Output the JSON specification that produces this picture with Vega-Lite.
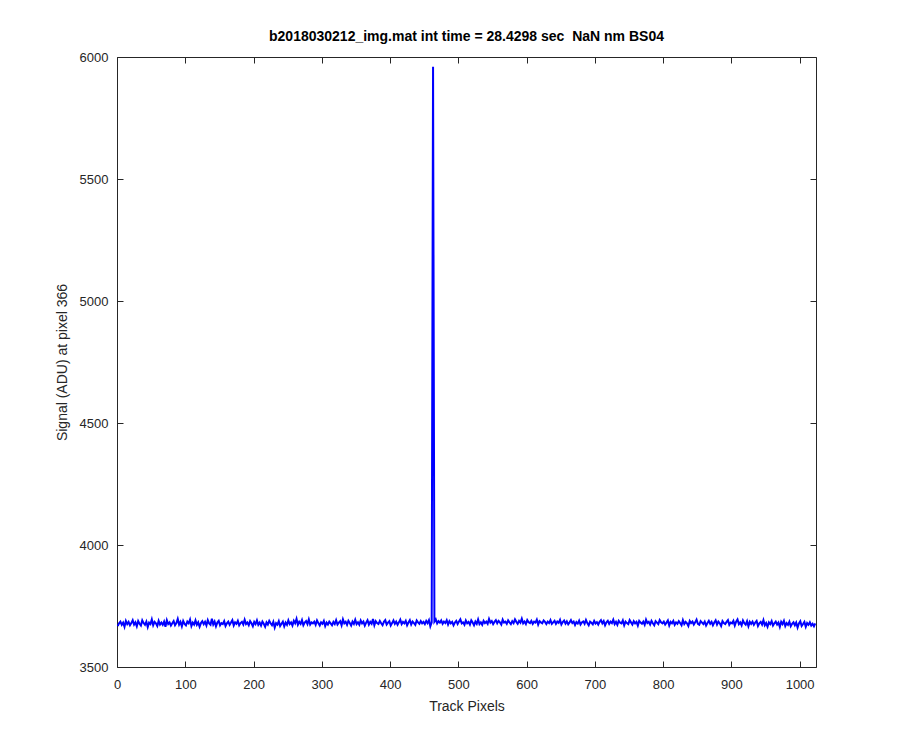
{
  "$schema": "https://vega.github.io/schema/vega-lite/v6.json",
  "width": 699,
  "height": 610,
  "autosize": {"type": "none"},
  "padding": {"left": 117, "top": 57, "right": 84, "bottom": 83},
  "background": "white",
  "title": {
    "text": "b2018030212_img.mat int time = 28.4298 sec\u00a0 NaN nm BS04",
    "font": "Liberation Sans",
    "fontSize": 14,
    "fontWeight": "bold",
    "color": "#000000",
    "anchor": "middle",
    "offset": 7
  },
  "config": {
    "view": {"stroke": "#262626", "strokeWidth": 1},
    "axis": {
      "grid": false,
      "domain": false,
      "labelFlush": false,
      "tickColor": "#262626",
      "tickSize": -6,
      "tickWidth": 1,
      "labelFont": "Liberation Sans",
      "labelFontSize": 13,
      "labelColor": "#262626",
      "titleFont": "Liberation Sans",
      "titleFontSize": 14,
      "titleFontWeight": "normal",
      "titleColor": "#262626"
    }
  },
  "data": {
    "values": [
      {"x":1,"y":3668},{"x":3,"y":3679},{"x":5,"y":3686},{"x":7,"y":3673},{"x":9,"y":3682},{"x":11,"y":3665},{"x":13,"y":3689},{"x":15,"y":3676},{"x":17,"y":3685},{"x":19,"y":3671},{"x":21,"y":3680},{"x":23,"y":3692},{"x":25,"y":3674},{"x":27,"y":3683},{"x":29,"y":3667},{"x":31,"y":3688},
      {"x":33,"y":3677},{"x":35,"y":3670},{"x":37,"y":3691},{"x":39,"y":3680},{"x":41,"y":3673},{"x":43,"y":3686},{"x":45,"y":3664},{"x":47,"y":3682},{"x":49,"y":3676},{"x":51,"y":3695},{"x":53,"y":3671},{"x":55,"y":3685},{"x":57,"y":3679},{"x":59,"y":3668},{"x":61,"y":3689},{"x":63,"y":3674},
      {"x":65,"y":3682},{"x":67,"y":3673},{"x":69,"y":3686},{"x":71,"y":3665},{"x":73,"y":3692},{"x":75,"y":3676},{"x":77,"y":3683},{"x":79,"y":3670},{"x":81,"y":3679},{"x":83,"y":3688},{"x":85,"y":3671},{"x":87,"y":3680},{"x":89,"y":3697},{"x":91,"y":3674},{"x":93,"y":3685},{"x":95,"y":3667},
      {"x":97,"y":3689},{"x":99,"y":3677},{"x":101,"y":3671},{"x":103,"y":3686},{"x":105,"y":3679},{"x":107,"y":3694},{"x":109,"y":3668},{"x":111,"y":3682},{"x":113,"y":3674},{"x":115,"y":3691},{"x":117,"y":3673},{"x":119,"y":3683},{"x":121,"y":3665},{"x":123,"y":3680},{"x":125,"y":3688},{"x":127,"y":3676},
      {"x":129,"y":3685},{"x":131,"y":3670},{"x":133,"y":3692},{"x":135,"y":3679},{"x":137,"y":3673},{"x":139,"y":3698},{"x":141,"y":3674},{"x":143,"y":3686},{"x":145,"y":3667},{"x":147,"y":3682},{"x":149,"y":3689},{"x":151,"y":3671},{"x":153,"y":3680},{"x":155,"y":3676},{"x":157,"y":3688},{"x":159,"y":3668},
      {"x":161,"y":3679},{"x":163,"y":3686},{"x":165,"y":3673},{"x":167,"y":3682},{"x":169,"y":3692},{"x":171,"y":3670},{"x":173,"y":3683},{"x":175,"y":3677},{"x":177,"y":3689},{"x":179,"y":3671},{"x":181,"y":3680},{"x":183,"y":3685},{"x":185,"y":3674},{"x":187,"y":3694},{"x":189,"y":3676},{"x":191,"y":3682},
      {"x":193,"y":3671},{"x":195,"y":3688},{"x":197,"y":3679},{"x":199,"y":3667},{"x":201,"y":3685},{"x":203,"y":3676},{"x":205,"y":3691},{"x":207,"y":3673},{"x":209,"y":3682},{"x":211,"y":3670},{"x":213,"y":3686},{"x":215,"y":3677},{"x":217,"y":3665},{"x":219,"y":3683},{"x":221,"y":3674},{"x":223,"y":3689},
      {"x":225,"y":3679},{"x":227,"y":3671},{"x":229,"y":3685},{"x":231,"y":3662},{"x":233,"y":3680},{"x":235,"y":3674},{"x":237,"y":3688},{"x":239,"y":3668},{"x":241,"y":3677},{"x":243,"y":3686},{"x":245,"y":3667},{"x":247,"y":3682},{"x":249,"y":3673},{"x":251,"y":3691},{"x":253,"y":3676},{"x":255,"y":3683},
      {"x":257,"y":3670},{"x":259,"y":3689},{"x":261,"y":3679},{"x":263,"y":3697},{"x":265,"y":3673},{"x":267,"y":3685},{"x":269,"y":3677},{"x":271,"y":3692},{"x":273,"y":3671},{"x":275,"y":3682},{"x":277,"y":3688},{"x":279,"y":3676},{"x":281,"y":3695},{"x":283,"y":3674},{"x":285,"y":3683},{"x":287,"y":3679},
      {"x":289,"y":3686},{"x":291,"y":3673},{"x":293,"y":3691},{"x":295,"y":3680},{"x":297,"y":3670},{"x":299,"y":3683},{"x":301,"y":3677},{"x":303,"y":3689},{"x":305,"y":3668},{"x":307,"y":3682},{"x":309,"y":3674},{"x":311,"y":3686},{"x":313,"y":3679},{"x":315,"y":3671},{"x":317,"y":3685},{"x":319,"y":3676},
      {"x":321,"y":3692},{"x":323,"y":3674},{"x":325,"y":3682},{"x":327,"y":3688},{"x":329,"y":3671},{"x":331,"y":3695},{"x":333,"y":3679},{"x":335,"y":3685},{"x":337,"y":3673},{"x":339,"y":3689},{"x":341,"y":3680},{"x":343,"y":3670},{"x":345,"y":3686},{"x":347,"y":3677},{"x":349,"y":3694},{"x":351,"y":3676},
      {"x":353,"y":3683},{"x":355,"y":3673},{"x":357,"y":3691},{"x":359,"y":3679},{"x":361,"y":3686},{"x":363,"y":3670},{"x":365,"y":3682},{"x":367,"y":3692},{"x":369,"y":3674},{"x":371,"y":3685},{"x":373,"y":3677},{"x":375,"y":3697},{"x":377,"y":3671},{"x":379,"y":3688},{"x":381,"y":3680},{"x":383,"y":3676},
      {"x":385,"y":3689},{"x":387,"y":3679},{"x":389,"y":3671},{"x":391,"y":3685},{"x":393,"y":3692},{"x":395,"y":3674},{"x":397,"y":3682},{"x":399,"y":3688},{"x":401,"y":3670},{"x":403,"y":3680},{"x":405,"y":3691},{"x":407,"y":3677},{"x":409,"y":3686},{"x":411,"y":3673},{"x":413,"y":3683},{"x":415,"y":3694},
      {"x":417,"y":3676},{"x":419,"y":3685},{"x":421,"y":3679},{"x":423,"y":3689},{"x":425,"y":3671},{"x":427,"y":3682},{"x":429,"y":3692},{"x":431,"y":3674},{"x":433,"y":3686},{"x":435,"y":3680},{"x":437,"y":3673},{"x":439,"y":3691},{"x":441,"y":3683},{"x":443,"y":3677},{"x":445,"y":3688},{"x":447,"y":3679},
      {"x":449,"y":3685},{"x":451,"y":3676},{"x":453,"y":3689},{"x":455,"y":3680},{"x":457,"y":3692},{"x":459,"y":3667},{"x":461,"y":3683},{"x":463,"y":5960},{"x":465,"y":3686},{"x":467,"y":3695},{"x":469,"y":3679},{"x":471,"y":3688},{"x":473,"y":3682},{"x":475,"y":3691},{"x":477,"y":3677},{"x":479,"y":3686},
      {"x":481,"y":3680},{"x":483,"y":3692},{"x":485,"y":3674},{"x":487,"y":3688},{"x":489,"y":3679},{"x":491,"y":3685},{"x":493,"y":3671},{"x":495,"y":3682},{"x":497,"y":3689},{"x":499,"y":3676},{"x":501,"y":3686},{"x":503,"y":3695},{"x":505,"y":3679},{"x":507,"y":3683},{"x":509,"y":3673},{"x":511,"y":3691},
      {"x":513,"y":3679},{"x":515,"y":3685},{"x":517,"y":3674},{"x":519,"y":3691},{"x":521,"y":3682},{"x":523,"y":3671},{"x":525,"y":3686},{"x":527,"y":3677},{"x":529,"y":3695},{"x":531,"y":3676},{"x":533,"y":3683},{"x":535,"y":3673},{"x":537,"y":3689},{"x":539,"y":3680},{"x":541,"y":3686},{"x":543,"y":3677},
      {"x":545,"y":3697},{"x":547,"y":3682},{"x":549,"y":3688},{"x":551,"y":3676},{"x":553,"y":3685},{"x":555,"y":3692},{"x":557,"y":3679},{"x":559,"y":3689},{"x":561,"y":3683},{"x":563,"y":3674},{"x":565,"y":3694},{"x":567,"y":3682},{"x":569,"y":3686},{"x":571,"y":3677},{"x":573,"y":3691},{"x":575,"y":3683},
      {"x":577,"y":3676},{"x":579,"y":3688},{"x":581,"y":3680},{"x":583,"y":3695},{"x":585,"y":3685},{"x":587,"y":3677},{"x":589,"y":3689},{"x":591,"y":3682},{"x":593,"y":3698},{"x":595,"y":3679},{"x":597,"y":3686},{"x":599,"y":3676},{"x":601,"y":3692},{"x":603,"y":3683},{"x":605,"y":3680},{"x":607,"y":3689},
      {"x":609,"y":3677},{"x":611,"y":3686},{"x":613,"y":3682},{"x":615,"y":3694},{"x":617,"y":3674},{"x":619,"y":3688},{"x":621,"y":3683},{"x":623,"y":3679},{"x":625,"y":3691},{"x":627,"y":3685},{"x":629,"y":3676},{"x":631,"y":3686},{"x":633,"y":3680},{"x":635,"y":3692},{"x":637,"y":3677},{"x":639,"y":3683},
      {"x":641,"y":3689},{"x":643,"y":3677},{"x":645,"y":3686},{"x":647,"y":3681},{"x":649,"y":3693},{"x":651,"y":3674},{"x":653,"y":3684},{"x":655,"y":3690},{"x":657,"y":3678},{"x":659,"y":3687},{"x":661,"y":3675},{"x":663,"y":3683},{"x":665,"y":3692},{"x":667,"y":3680},{"x":669,"y":3686},{"x":671,"y":3672},
      {"x":673,"y":3684},{"x":675,"y":3678},{"x":677,"y":3690},{"x":679,"y":3674},{"x":681,"y":3683},{"x":683,"y":3687},{"x":685,"y":3677},{"x":687,"y":3693},{"x":689,"y":3680},{"x":691,"y":3671},{"x":693,"y":3686},{"x":695,"y":3681},{"x":697,"y":3675},{"x":699,"y":3689},{"x":701,"y":3678},{"x":703,"y":3684},
      {"x":705,"y":3674},{"x":707,"y":3685},{"x":709,"y":3692},{"x":711,"y":3679},{"x":713,"y":3688},{"x":715,"y":3671},{"x":717,"y":3683},{"x":719,"y":3689},{"x":721,"y":3677},{"x":723,"y":3686},{"x":725,"y":3680},{"x":727,"y":3694},{"x":729,"y":3676},{"x":731,"y":3685},{"x":733,"y":3673},{"x":735,"y":3689},
      {"x":737,"y":3682},{"x":739,"y":3679},{"x":741,"y":3691},{"x":743,"y":3671},{"x":745,"y":3686},{"x":747,"y":3680},{"x":749,"y":3676},{"x":751,"y":3692},{"x":753,"y":3683},{"x":755,"y":3674},{"x":757,"y":3688},{"x":759,"y":3679},{"x":761,"y":3685},{"x":763,"y":3670},{"x":765,"y":3689},{"x":767,"y":3682},
      {"x":769,"y":3677},{"x":771,"y":3686},{"x":773,"y":3673},{"x":775,"y":3694},{"x":777,"y":3680},{"x":779,"y":3685},{"x":781,"y":3674},{"x":783,"y":3689},{"x":785,"y":3679},{"x":787,"y":3671},{"x":789,"y":3688},{"x":791,"y":3682},{"x":793,"y":3676},{"x":795,"y":3692},{"x":797,"y":3683},{"x":799,"y":3679},
      {"x":801,"y":3686},{"x":803,"y":3674},{"x":805,"y":3682},{"x":807,"y":3691},{"x":809,"y":3670},{"x":811,"y":3685},{"x":813,"y":3679},{"x":815,"y":3689},{"x":817,"y":3673},{"x":819,"y":3683},{"x":821,"y":3677},{"x":823,"y":3688},{"x":825,"y":3680},{"x":827,"y":3671},{"x":829,"y":3692},{"x":831,"y":3676},
      {"x":833,"y":3685},{"x":835,"y":3679},{"x":837,"y":3668},{"x":839,"y":3689},{"x":841,"y":3680},{"x":843,"y":3686},{"x":845,"y":3674},{"x":847,"y":3683},{"x":849,"y":3694},{"x":851,"y":3677},{"x":853,"y":3673},{"x":855,"y":3688},{"x":857,"y":3682},{"x":859,"y":3676},{"x":861,"y":3686},{"x":863,"y":3670},
      {"x":865,"y":3680},{"x":867,"y":3689},{"x":869,"y":3677},{"x":871,"y":3685},{"x":873,"y":3671},{"x":875,"y":3682},{"x":877,"y":3691},{"x":879,"y":3674},{"x":881,"y":3686},{"x":883,"y":3679},{"x":885,"y":3668},{"x":887,"y":3688},{"x":889,"y":3680},{"x":891,"y":3676},{"x":893,"y":3685},{"x":895,"y":3692},
      {"x":897,"y":3673},{"x":899,"y":3682},{"x":901,"y":3679},{"x":903,"y":3689},{"x":905,"y":3670},{"x":907,"y":3686},{"x":909,"y":3695},{"x":911,"y":3676},{"x":913,"y":3683},{"x":915,"y":3671},{"x":917,"y":3691},{"x":919,"y":3680},{"x":921,"y":3674},{"x":923,"y":3688},{"x":925,"y":3667},{"x":927,"y":3685},
      {"x":929,"y":3677},{"x":931,"y":3686},{"x":933,"y":3673},{"x":935,"y":3682},{"x":937,"y":3689},{"x":939,"y":3668},{"x":941,"y":3679},{"x":943,"y":3685},{"x":945,"y":3674},{"x":947,"y":3692},{"x":949,"y":3671},{"x":951,"y":3680},{"x":953,"y":3665},{"x":955,"y":3683},{"x":957,"y":3676},{"x":959,"y":3688},
      {"x":961,"y":3670},{"x":963,"y":3679},{"x":965,"y":3686},{"x":967,"y":3674},{"x":969,"y":3682},{"x":971,"y":3664},{"x":973,"y":3685},{"x":975,"y":3676},{"x":977,"y":3689},{"x":979,"y":3668},{"x":981,"y":3680},{"x":983,"y":3673},{"x":985,"y":3686},{"x":987,"y":3667},{"x":989,"y":3677},{"x":991,"y":3683},
      {"x":993,"y":3671},{"x":995,"y":3682},{"x":997,"y":3662},{"x":999,"y":3679},{"x":1001,"y":3688},{"x":1003,"y":3668},{"x":1005,"y":3676},{"x":1007,"y":3685},{"x":1009,"y":3665},{"x":1011,"y":3680},{"x":1013,"y":3673},{"x":1015,"y":3683},{"x":1017,"y":3670},{"x":1019,"y":3677},{"x":1021,"y":3667},{"x":1023,"y":3679}
    ]
  },
  "layer": [
    {
      "mark": {"type": "line", "color": "#0000ff", "strokeWidth": 2, "clip": true},
      "encoding": {
        "x": {
          "field": "x", "type": "quantitative",
          "scale": {"domain": [0, 1024], "nice": false, "zero": false},
          "axis": {"orient": "bottom", "title": "Track Pixels", "values": [0,100,200,300,400,500,600,700,800,900,1000], "labelPadding": 17, "titlePadding": 8, "format": "d"}
        },
        "y": {
          "field": "y", "type": "quantitative",
          "scale": {"domain": [3500, 6000], "nice": false, "zero": false},
          "axis": {"orient": "left", "title": "Signal (ADU) at pixel 366", "values": [3500,4000,4500,5000,5500,6000], "labelPadding": 15, "titlePadding": 10, "format": "d"}
        }
      }
    },
    {
      "mark": {"type": "line", "strokeOpacity": 0},
      "encoding": {
        "x": {
          "field": "x", "type": "quantitative",
          "scale": {"domain": [0, 1024], "nice": false, "zero": false},
          "axis": {"orient": "top", "title": null, "labels": false, "values": [0,100,200,300,400,500,600,700,800,900,1000]}
        },
        "y": {
          "field": "y", "type": "quantitative",
          "scale": {"domain": [3500, 6000], "nice": false, "zero": false},
          "axis": {"orient": "right", "title": null, "labels": false, "values": [3500,4000,4500,5000,5500,6000]}
        }
      }
    }
  ],
  "resolve": {"axis": {"x": "independent", "y": "independent"}}
}
